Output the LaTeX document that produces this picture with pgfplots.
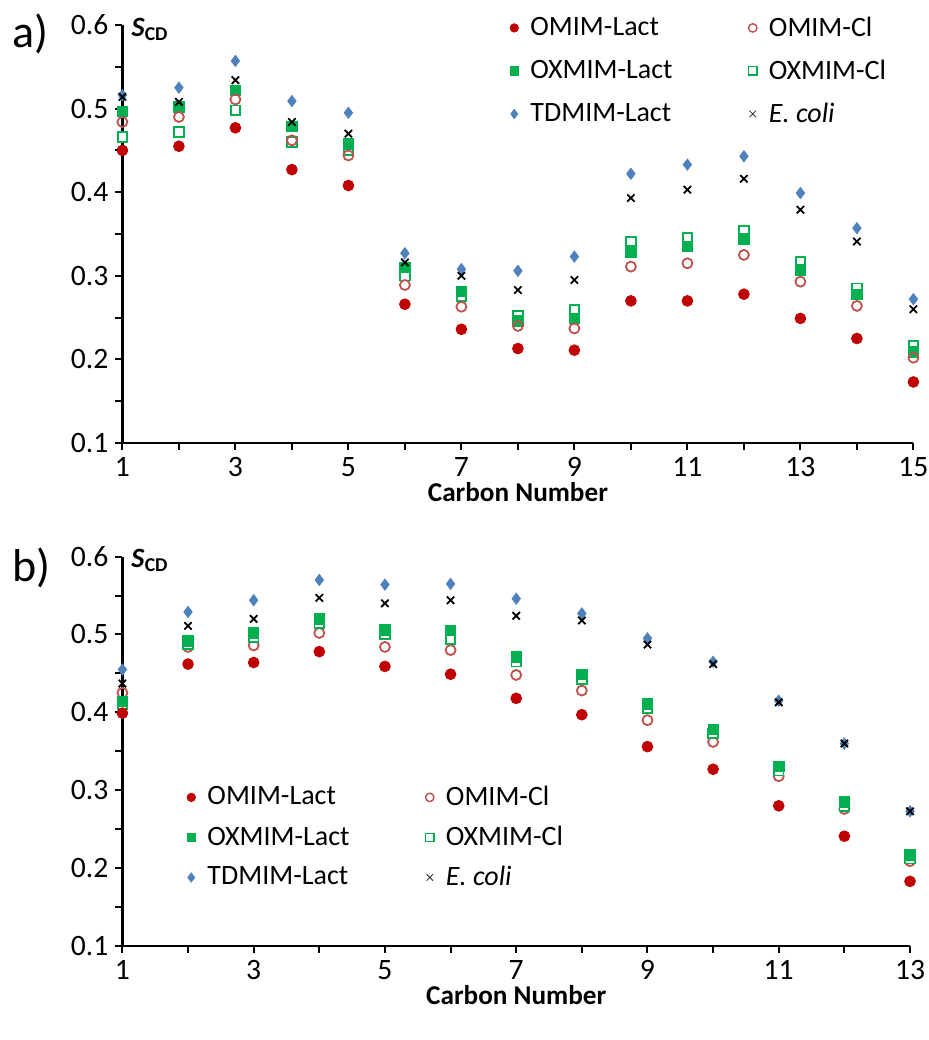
\documentclass[border=0pt]{standalone}
\usepackage{fontspec}
\setmainfont{Carlito}
\usepackage{pgfplots}
\pgfplotsset{compat=1.18}
\definecolor{cRed}{HTML}{C00000}
\definecolor{cRedO}{HTML}{C0504D}
\definecolor{cGreen}{HTML}{00B050}
\definecolor{cBlue}{HTML}{4F81BD}
\pgfplotsset{
  myax/.style={
    scale only axis,
    clip=false,
    axis lines=left,
    axis line style={-, line width=1.2pt},
    x axis line style={-}, y axis line style={-},
    tick align=outside,
    major tick length=3.5pt, minor tick length=3.5pt,
    every tick/.style={black, line width=1pt},
    ymin=0.1, ymax=0.6,
    ytick={0.1,0.2,0.3,0.4,0.5,0.6},
    minor ytick={0.15,0.25,0.35,0.45,0.55},
    yticklabel style={/pgf/number format/.cd, fixed, fixed zerofill, precision=1},
    /pgf/number format/assume math mode=true,
    ticklabel style={font=\fontsize{14.8}{17}\selectfont},
    xlabel={Carbon Number},
    xlabel style={font=\fontsize{13.6}{16}\selectfont\bfseries, yshift=4pt},
    legend columns=2,
    legend cell align=left,
    legend style={draw=none, fill=none, font=\fontsize{14}{17}\selectfont,
      /tikz/every odd column/.append style={column sep=4pt},
      /tikz/every even column/.append style={column sep=36pt}},
  },
  mRed/.style={only marks, color=cRed, mark=*, mark size=2.7pt, mark options={fill=cRed, draw=cRed}},
  mRedO/.style={only marks, color=cRedO, mark=o, mark size=2.5pt, mark options={draw=cRedO, fill=white, line width=0.9pt}},
  mGreen/.style={only marks, color=cGreen, mark=square*, mark size=2.6pt, mark options={fill=cGreen, draw=cGreen}},
  mGreenO/.style={only marks, color=cGreen, mark=square*, mark size=2.4pt, mark options={fill=white, draw=cGreen, line width=0.9pt}},
  mBlue/.style={only marks, color=cBlue, mark=diamond*, mark size=2.8pt, mark options={fill=cBlue, draw=cBlue}},
  mX/.style={only marks, color=black, mark=x, mark size=2.6pt, mark options={draw=black, line width=0.9pt}},
  lRed/.style={only marks, color=cRed, mark=*, mark size=2.1pt, mark options={fill=cRed, draw=cRed}},
  lRedO/.style={only marks, color=cRedO, mark=o, mark size=2.1pt, mark options={draw=cRedO, line width=0.7pt}},
  lGreen/.style={only marks, color=cGreen, mark=square*, mark size=2.1pt, mark options={fill=cGreen, draw=cGreen}},
  lGreenO/.style={only marks, color=cGreen, mark=square*, mark size=2.1pt, mark options={fill=white, draw=cGreen, line width=0.7pt}},
  lBlue/.style={only marks, color=cBlue, mark=diamond*, mark size=2.3pt, mark options={fill=cBlue, draw=cBlue}},
  lX/.style={only marks, color=black!75, mark=x, mark size=2.3pt, mark options={draw=black!75, line width=0.5pt}},
}
\begin{document}
\begin{tikzpicture}[x=1pt,y=1pt]
\useasboundingbox (0,0) rectangle (464.5,520);
% ---------------- panel a ----------------
\begin{axis}[myax, at={(61.2pt,298.5pt)}, anchor=south west,
  width=395.5pt, height=209pt,
  xmin=1, xmax=15,
  xtick={1,3,5,7,9,11,13,15}, minor xtick={2,4,6,8,10,12,14},
  legend style={at={(0.482,1.04)}, anchor=north west, row sep=6.3pt},
]
\addplot[mGreenO, forget plot] coordinates {(1,0.466)(2,0.472)(3,0.498)(4,0.460)(5,0.450)(6,0.300)(7,0.276)(8,0.252)(9,0.259)(10,0.341)(11,0.345)(12,0.354)(13,0.317)(14,0.285)(15,0.216)};
\addplot[mGreen, forget plot] coordinates {(1,0.497)(2,0.502)(3,0.522)(4,0.479)(5,0.458)(6,0.310)(7,0.281)(8,0.246)(9,0.249)(10,0.328)(11,0.335)(12,0.344)(13,0.307)(14,0.278)(15,0.209)};
\addplot[mRedO, forget plot] coordinates {(1,0.484)(2,0.490)(3,0.511)(4,0.462)(5,0.444)(6,0.289)(7,0.263)(8,0.240)(9,0.237)(10,0.311)(11,0.315)(12,0.325)(13,0.293)(14,0.264)(15,0.202)};
\addplot[mRed, forget plot] coordinates {(1,0.450)(2,0.455)(3,0.477)(4,0.427)(5,0.408)(6,0.266)(7,0.236)(8,0.213)(9,0.211)(10,0.270)(11,0.270)(12,0.278)(13,0.249)(14,0.225)(15,0.173)};
\addplot[mBlue, forget plot] coordinates {(1,0.516)(2,0.525)(3,0.557)(4,0.509)(5,0.495)(6,0.327)(7,0.308)(8,0.306)(9,0.323)(10,0.422)(11,0.433)(12,0.443)(13,0.399)(14,0.357)(15,0.272)};
\addplot[mX, forget plot] coordinates {(1,0.514)(2,0.508)(3,0.534)(4,0.484)(5,0.470)(6,0.316)(7,0.300)(8,0.283)(9,0.295)(10,0.393)(11,0.403)(12,0.416)(13,0.379)(14,0.341)(15,0.260)};
\addlegendimage{lRed}\addlegendentry{OMIM-Lact}
\addlegendimage{lRedO}\addlegendentry{OMIM-Cl}
\addlegendimage{lGreen}\addlegendentry{OXMIM-Lact}
\addlegendimage{lGreenO}\addlegendentry{OXMIM-Cl}
\addlegendimage{lBlue}\addlegendentry{TDMIM-Lact}
\addlegendimage{lX}\addlegendentry{\textit{E. coli}}
\node[anchor=west, font=\fontsize{14}{16}\selectfont\bfseries, inner sep=0pt] at (rel axis cs:0.011,0.99) {\textit{S}\textsubscript{CD}};
\end{axis}
% ---------------- panel b ----------------
\begin{axis}[myax, at={(61.2pt,47pt)}, anchor=south west,
  width=393.8pt, height=194.7pt,
  xmin=1, xmax=13,
  xtick={1,3,5,7,9,11,13}, minor xtick={2,4,6,8,10,12},
  legend style={at={(0.074,0.432)}, anchor=north west, row sep=4.8pt},
]
\addplot[mRedO, forget plot] coordinates {(1,0.425)(2,0.484)(3,0.486)(4,0.502)(5,0.484)(6,0.480)(7,0.448)(8,0.428)(9,0.390)(10,0.362)(11,0.318)(12,0.276)(13,0.209)};
\addplot[mGreenO, forget plot] coordinates {(1,0.410)(2,0.488)(3,0.497)(4,0.514)(5,0.500)(6,0.494)(7,0.465)(8,0.443)(9,0.405)(10,0.373)(11,0.325)(12,0.280)(13,0.212)};
\addplot[mGreen, forget plot] coordinates {(1,0.414)(2,0.492)(3,0.502)(4,0.520)(5,0.506)(6,0.505)(7,0.471)(8,0.449)(9,0.411)(10,0.378)(11,0.331)(12,0.285)(13,0.217)};
\addplot[mRed, forget plot] coordinates {(1,0.399)(2,0.462)(3,0.464)(4,0.478)(5,0.459)(6,0.449)(7,0.418)(8,0.397)(9,0.356)(10,0.327)(11,0.280)(12,0.241)(13,0.183)};
\addplot[mBlue, forget plot] coordinates {(1,0.455)(2,0.529)(3,0.544)(4,0.570)(5,0.564)(6,0.565)(7,0.546)(8,0.527)(9,0.495)(10,0.465)(11,0.415)(12,0.360)(13,0.273)};
\addplot[mX, forget plot] coordinates {(1,0.437)(2,0.511)(3,0.520)(4,0.547)(5,0.540)(6,0.544)(7,0.524)(8,0.518)(9,0.487)(10,0.462)(11,0.413)(12,0.360)(13,0.273)};
\addlegendimage{lRed}\addlegendentry{OMIM-Lact}
\addlegendimage{lRedO}\addlegendentry{OMIM-Cl}
\addlegendimage{lGreen}\addlegendentry{OXMIM-Lact}
\addlegendimage{lGreenO}\addlegendentry{OXMIM-Cl}
\addlegendimage{lBlue}\addlegendentry{TDMIM-Lact}
\addlegendimage{lX}\addlegendentry{\textit{E. coli}}
\node[anchor=west, font=\fontsize{14}{16}\selectfont\bfseries, inner sep=0pt] at (rel axis cs:0.011,0.99) {\textit{S}\textsubscript{CD}};
\end{axis}
% panel letters
\node[anchor=west, font=\fontsize{23}{25}\selectfont, inner sep=0pt] at (6,503) {a)};
\node[anchor=west, font=\fontsize{23}{25}\selectfont, inner sep=0pt] at (6,236) {b)};
\end{tikzpicture}
\end{document}
